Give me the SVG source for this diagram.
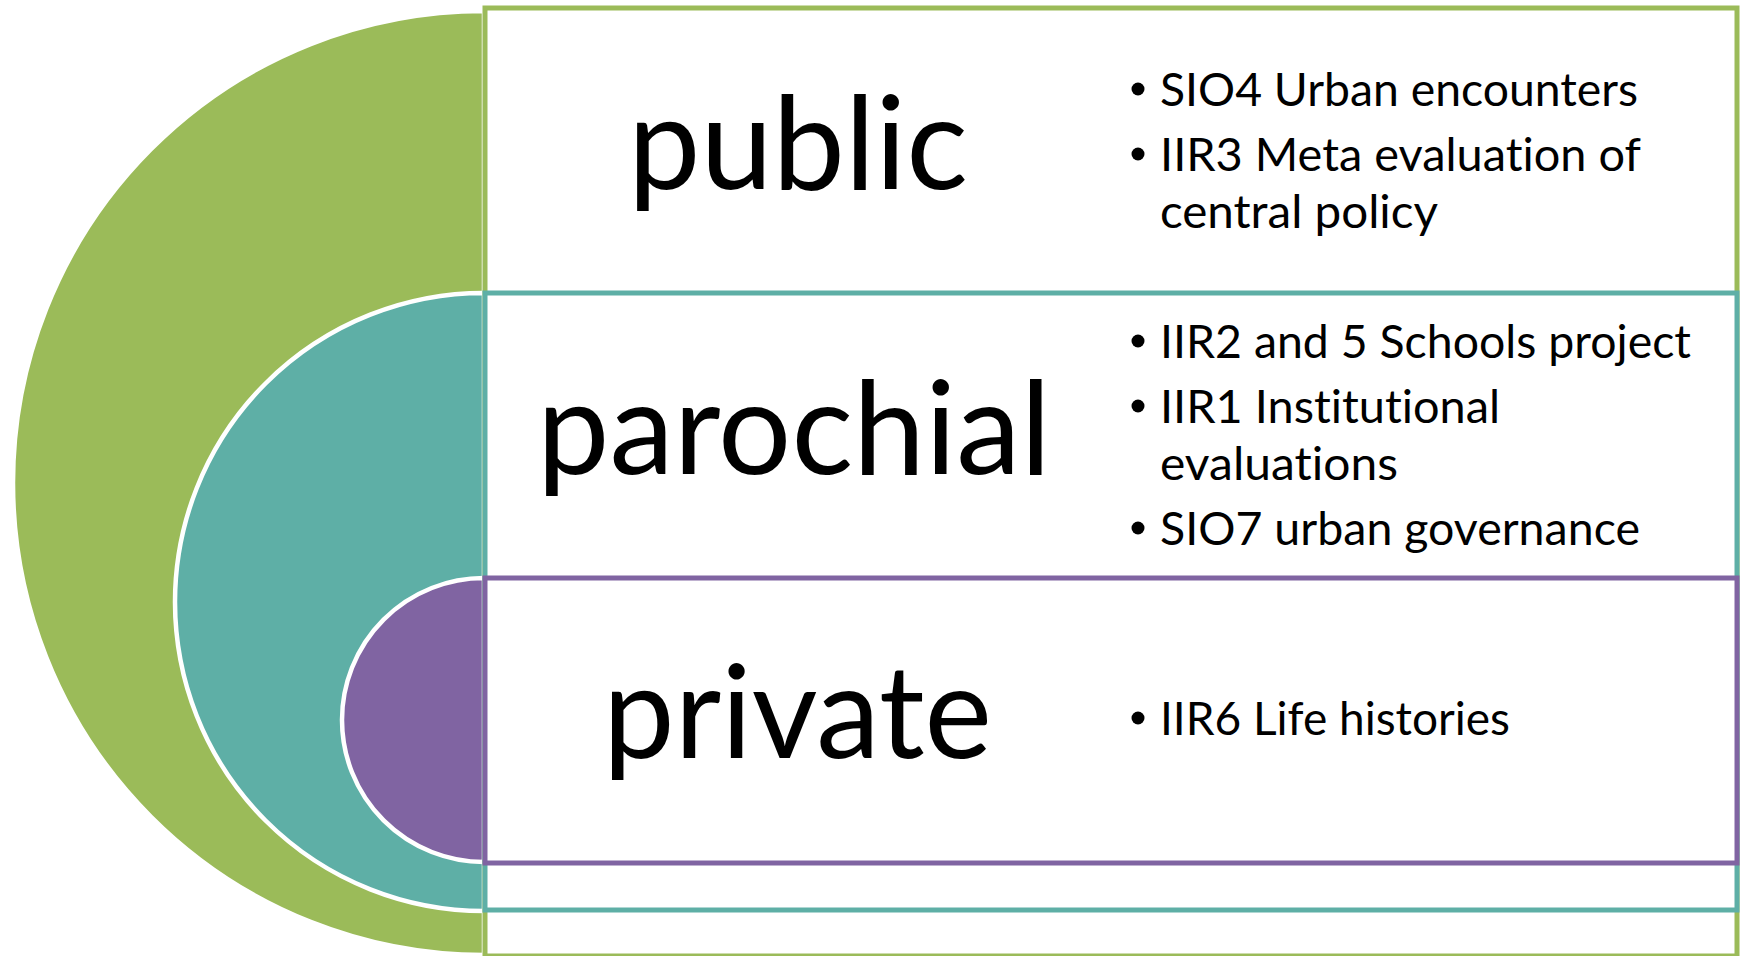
<svg xmlns="http://www.w3.org/2000/svg" width="1745" height="956" viewBox="0 0 1745 956">
<style>
.big{font-family:Lato,"Open Sans","Liberation Sans",sans-serif;font-size:129px;fill:#000;font-variant-ligatures:none}
.bul{font-family:Lato,"Open Sans","Liberation Sans",sans-serif;font-size:47px;fill:#000;font-variant-ligatures:none}
.frame{fill:#fff;stroke-width:5}
.arc{stroke:#fff;stroke-width:4.5}
</style>
<rect width="1745" height="956" fill="#fff"/>
<g id="arcs">
<path id="arc-public" class="arc" d="M484,11 A471,472 0 0 0 484,955 Z" fill="#9BBB59" stroke-width="1"/>
<path id="arc-parochial" class="arc" d="M484,293 A309,309 0 0 0 484,911 Z" fill="#5EAFA6"/>
<path id="arc-private" class="arc" d="M484,578 A142,142 0 0 0 484,862 Z" fill="#8064A2"/>
</g>
<g id="node-public">
<rect class="frame" x="485" y="8" width="1252" height="948" stroke="#9BBB59"/>
</g>
<g id="node-parochial">
<rect class="frame" x="485" y="293" width="1252" height="617" stroke="#5EAFA6"/>
</g>
<g id="node-private">
<rect class="frame" x="485" y="578" width="1252" height="285" stroke="#8064A2"/>
</g>
<g id="labels-public">
<text class="big" x="628" y="189" textLength="340" lengthAdjust="spacingAndGlyphs">public</text>
<circle cx="1138" cy="89" r="6.5"/>
<text class="bul" x="1160" y="106" textLength="478" lengthAdjust="spacingAndGlyphs">SIO4 Urban encounters</text>
<circle cx="1138" cy="154" r="6.5"/>
<text class="bul" x="1160" y="171" textLength="481" lengthAdjust="spacingAndGlyphs">IIR3 Meta evaluation of</text>
<text class="bul" x="1160" y="228" textLength="278" lengthAdjust="spacingAndGlyphs">central policy</text>
</g>
<g id="labels-parochial">
<text class="big" x="537" y="474" textLength="514" lengthAdjust="spacingAndGlyphs">parochial</text>
<circle cx="1138" cy="341" r="6.5"/>
<text class="bul" x="1160" y="358" textLength="531" lengthAdjust="spacingAndGlyphs">IIR2 and 5 Schools project</text>
<circle cx="1138" cy="406" r="6.5"/>
<text class="bul" x="1160" y="423" textLength="340" lengthAdjust="spacingAndGlyphs">IIR1 Institutional</text>
<text class="bul" x="1160" y="480" textLength="238" lengthAdjust="spacingAndGlyphs">evaluations</text>
<circle cx="1138" cy="528" r="6.5"/>
<text class="bul" x="1160" y="545" textLength="480" lengthAdjust="spacingAndGlyphs">SIO7 urban governance</text>
</g>
<g id="labels-private">
<text class="big" x="603" y="758" textLength="389" lengthAdjust="spacingAndGlyphs">private</text>
<circle cx="1138" cy="718" r="6.5"/>
<text class="bul" x="1160" y="735" textLength="350" lengthAdjust="spacingAndGlyphs">IIR6 Life histories</text>
</g>
<g id="connectors"></g>
</svg>
